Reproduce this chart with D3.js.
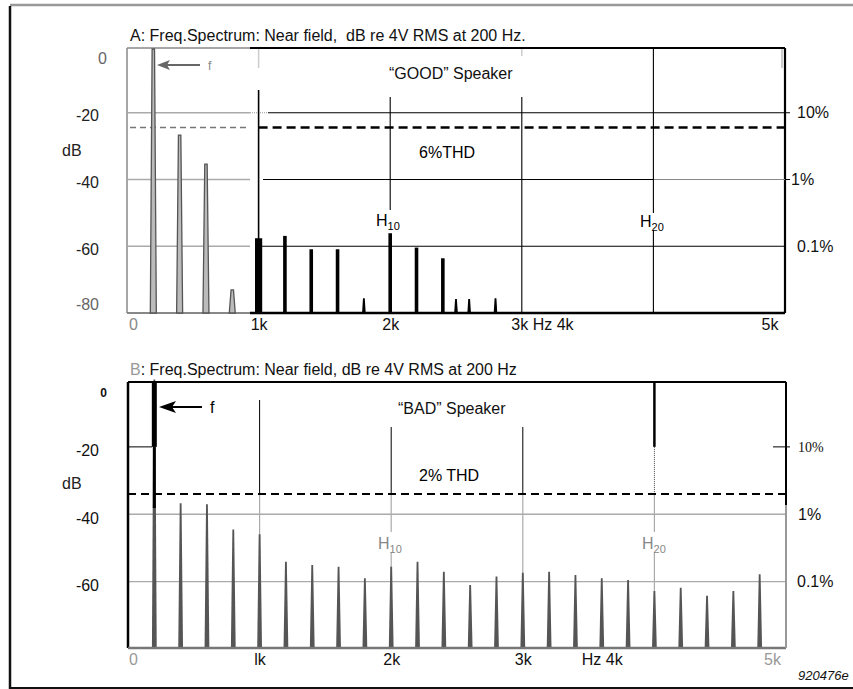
<!DOCTYPE html>
<html><head><meta charset="utf-8">
<script src="https://cdn.jsdelivr.net/npm/d3@7"></script>
<style>
html,body{margin:0;padding:0;background:#fff;}
svg{display:block;font-family:"Liberation Sans",Arial,sans-serif;}
text{white-space:pre;}
</style></head>
<body>
<svg id="c" width="853" height="689"></svg>
<script>
// ---------- data ----------
const goodLowFreq = [200, 400, 600, 800];
const goodLowDb   = [0, -25.8, -34.5, -72.2];
const goodHighFreq = [1000, 1200, 1400, 1600, 1800, 2000, 2200, 2400, 2500, 2600, 2800];
const goodHighDb   = [-57.6, -56.9, -60.9, -60.9, -75.6, -56.1, -60.4, -63.6, -75.8, -75.8, -75.6];
const badFreq = [200, 400, 600, 800, 1000, 1200, 1400, 1600, 1800, 2000, 2200, 2400,
                 2600, 2800, 3000, 3200, 3400, 3600, 3800, 4000, 4200, 4400, 4600, 4800];
const badDb   = [0, -36.7, -37, -44.5, -45.9, -54.1, -55.1, -55.6, -59, -55.6, -54.1, -57.1,
                 -61, -58.5, -57.4, -57.1, -58, -59, -59.5, -62.8, -61.8, -64.2, -62.8, -57.8];
const thdGoodDb = -24.4;   // 6% THD
const thdBadDb  = -34;     // 2% THD
const dbTicks = [0, -20, -40, -60, -80];
const dbTicksB = [0, -20, -40, -60];
const pctTicks = [-20, -40, -60];
const pctLabels = ["10%", "1%", "0.1%"];
const xTicksA = [0, 1000, 2000, 3000, 5000];
const xLabelsA = ["0", "1k", "2k", "3k Hz 4k", "5k"];
const xTicksB = [0, 1000, 2000, 3000, 3600, 5000];
const xLabelsB = ["0", "lk", "2k", "3k", "Hz 4k", "5k"];

// ---------- setup ----------
const svg = d3.select("#c");
const xA = d3.scaleLinear().domain([0, 5000]).range([127, 785]);
const yA = d3.scaleLinear().domain([-80, 0]).range([313, 46]);
const xB = d3.scaleLinear().domain([0, 5000]).range([128, 786]);
const yB = d3.scaleLinear().domain([-80, 0]).range([649, 379.5]);
const topA = 48, botA = 313, topB = 382, botB = 648;
const splitX = 250;
const FONT = "Liberation Sans, Arial, sans-serif";

function line(x1, y1, x2, y2, stroke, w, dash) {
  const l = svg.append("line").attr("x1", x1).attr("y1", y1).attr("x2", x2).attr("y2", y2)
    .attr("stroke", stroke).attr("stroke-width", w);
  if (dash) l.attr("stroke-dasharray", dash);
  return l;
}
function text(x, y, s, opts = {}) {
  const t = svg.append("text").attr("x", x).attr("y", y).text(s)
    .attr("font-size", opts.size || 16).attr("fill", opts.fill || "#111");
  if (opts.anchor) t.attr("text-anchor", opts.anchor);
  if (opts.weight) t.attr("font-weight", opts.weight);
  if (opts.style) t.attr("font-style", opts.style);
  if (opts.family) t.attr("font-family", opts.family);
  return t;
}
function harmLabel(x, y, sub, fill) {
  const t = svg.append("text").attr("x", x).attr("y", y).attr("font-size", 16).attr("fill", fill);
  t.append("tspan").text("H");
  t.append("tspan").attr("font-size", 11).attr("dy", 4).text(sub);
}
const fmtDb = d => String(d);

// ---------- outer frame ----------
line(10, 5, 853, 5, "#999", 2.5);
line(10, 6, 10, 689, "#111", 2.5);
line(10, 688, 853, 688, "#111", 2);

// ---------- Panel A ----------
text(130, 41, "A: Freq.Spectrum: Near field,  dB re 4V RMS at 200 Hz.");

// gray (left) portion
line(127, topA, splitX, topA, "#888", 1.5);
line(127, topA, 127, botA, "#888", 1.5);
line(127, botA, splitX, botA, "#888", 2);
[-20, -40, -60].forEach(d => line(127, yA(d), splitX, yA(d), "#aaa", 1.3));
line(130, yA(thdGoodDb), splitX, yA(thdGoodDb), "#777", 1.6, "6,4");
line(xA(1000), topA, xA(1000), topA + 20, "#ccc", 1.5);
line(xA(3000), topA, xA(3000), topA + 8, "#ccc", 1.5);
line(782, topA, 782, topA + 20, "#ccc", 2);

// gray spikes (outlined)
svg.append("g").selectAll("path").data(goodLowFreq.map((f, i) => [f, goodLowDb[i]])).join("path")
  .attr("d", d => {
    const x = xA(d[0]), y0 = yA(-80), y1 = yA(d[1]) + 3;
    return `M${x - 3},${y0} L${x - 1.2},${y1} L${x + 1.2},${y1} L${x + 3},${y0}Z`;
  })
  .attr("fill", "#bbb").attr("stroke", "#555").attr("stroke-width", 1.3);

// arrow f (gray)
line(162, 65, 200, 65, "#666", 2);
svg.append("path").attr("d", "M157,65 L170,60 L167,65 L170,70Z").attr("fill", "#666");
text(208, 70, "f", { size: 12, fill: "#888" });

// black overlay
line(splitX, topA, 785, topA, "#000", 2);
line(785, topA, 785, botA, "#000", 2.2);
line(splitX, botA, 785, botA, "#000", 2.5);
line(268, yA(-20), 790, yA(-20), "#000", 1.2);
line(splitX, yA(-20), 268, yA(-20), "#999", 1, "1,1");
line(263, yA(-40), 790, yA(-40), "#000", 1.1);
line(xA(4000), yA(-40), 785, yA(-40), "#888", 1);
line(258, yA(-60), 785, yA(-60), "#000", 1.1);
line(xA(1000), yA(thdGoodDb), 785, yA(thdGoodDb), "#000", 2.5, "9,5");
line(xA(1000), 90, xA(1000), botA, "#000", 1.6);
line(xA(2000), 97, xA(2000), 210, "#000", 1.1);
line(xA(3000), 97, xA(3000), botA, "#000", 1.1);
line(xA(4000), topA, xA(4000), 213, "#000", 1.1);
line(xA(4000), 230, xA(4000), botA, "#000", 1.1);

// black bars
svg.append("g").selectAll("path").data(goodHighFreq.map((f, i) => [f, goodHighDb[i]])).join("path")
  .attr("d", d => {
    const x = xA(d[0]), y0 = botA, y1 = yA(d[1]);
    const w = d[0] === 1000 ? 3.6 : 1.8;
    const tw = d[1] < -70 ? w * 0.5 : w;
    return `M${x - w},${y0} L${x - tw},${y1} L${x + tw},${y1} L${x + w},${y0}Z`;
  })
  .attr("fill", "#000");

// axes A
const axLA = svg.append("g").attr("transform", "translate(127,0)")
  .call(d3.axisLeft(yA).tickValues(dbTicks).tickSize(0).tickPadding(28).tickFormat(fmtDb));
axLA.select(".domain").remove();
axLA.selectAll("text").attr("font-size", 16).attr("font-family", FONT)
  .attr("fill", d => (d === 0 || d === -80) ? "#666" : "#222")
  .attr("dy", d => d === 0 ? "1.1em" : d === -80 ? "-0.25em" : "0.5em")
  .attr("dx", d => d === 0 ? 8 : 0);
text(62, 156, "dB", { fill: "#222" });

const axRA = svg.append("g").attr("transform", "translate(785,0)")
  .call(d3.axisRight(yA).tickValues(pctTicks).tickSize(0).tickPadding(12)
    .tickFormat((d, i) => pctLabels[i]));
axRA.select(".domain").remove();
axRA.selectAll("text").attr("font-size", 16).attr("font-family", FONT)
  .attr("fill", "#111").attr("dx", (d, i) => i === 1 ? -6 : 0);

const axBA = svg.append("g").attr("transform", `translate(0,${botA})`)
  .call(d3.axisBottom(xA).tickValues(xTicksA).tickSize(0).tickPadding(6)
    .tickFormat((d, i) => xLabelsA[i]));
axBA.select(".domain").remove();
axBA.selectAll("text").attr("font-size", 16).attr("font-family", FONT)
  .attr("fill", d => d === 0 ? "#888" : "#111")
  .attr("text-anchor", d => d === 3000 ? "start" : d === 5000 ? "end" : "middle")
  .attr("dx", d => d === 0 ? 6 : d === 3000 ? -11 : d === 5000 ? -7 : 0);

text(389, 79, "\u201CGOOD\u201D Speaker", { fill: "#111" });
text(419, 158, "6%THD", { fill: "#000" });
harmLabel(376, 226, "10", "#000");
harmLabel(640, 227, "20", "#000");

// ---------- Panel B ----------
const tB = svg.append("text").attr("x", 130).attr("y", 375).attr("font-size", 16).attr("fill", "#111");
tB.append("tspan").attr("fill", "#999").text("B");
tB.append("tspan").text(": Freq.Spectrum: Near field, dB re 4V RMS at 200 Hz");

[-40, -60].forEach(d => line(128, yB(d), 786, yB(d), "#aaa", 1.4));
line(128, yB(-20), 152, yB(-20), "#000", 1);
line(773, yB(-20), 790, yB(-20), "#000", 1);

// verticals
line(xB(1000), 400, xB(1000), yB(thdBadDb), "#000", 1);
line(xB(1000), yB(thdBadDb), xB(1000), botB, "#aaa", 1.2);
line(xB(2000), 427, xB(2000), yB(thdBadDb), "#000", 1);
line(xB(2000), yB(thdBadDb), xB(2000), 532, "#aaa", 1.2);
line(xB(2000), 552, xB(2000), botB, "#aaa", 1.2);
line(xB(3000), 427, xB(3000), yB(thdBadDb), "#000", 1);
line(xB(3000), yB(thdBadDb), xB(3000), botB, "#aaa", 1.2);
line(xB(4000), topB, xB(4000), yB(-20), "#000", 2.5);
line(xB(4000), yB(-20), xB(4000), yB(thdBadDb), "#444", 1, "1,1");
line(xB(4000), yB(thdBadDb), xB(4000), 532, "#aaa", 1.2);
line(xB(4000), 552, xB(4000), botB, "#aaa", 1.2);

// spikes
svg.append("g").selectAll("path").data(badFreq.map((f, i) => [f, badDb[i]])).join("path")
  .attr("d", d => {
    const x = xB(d[0]), y0 = botB, y1 = yB(d[1]);
    return `M${x - 2.4},${y0} L${x - 0.9},${y1} L${x + 0.9},${y1} L${x + 2.4},${y0}Z`;
  })
  .attr("fill", "#555");

// fundamental overlay
svg.append("rect").attr("x", xB(200) - 2.5).attr("y", topB).attr("width", 5)
  .attr("height", yB(-20) - topB).attr("fill", "#000");
line(xB(200), yB(-20), xB(200), yB(thdBadDb) + 14, "#000", 3);

line(128, yB(thdBadDb), 786, yB(thdBadDb), "#000", 2, "8,5");

// frame B
line(128, topB, 786, topB, "#000", 2);
line(128, topB, 128, botB, "#000", 2.5);
line(128, botB, 786, botB, "#777", 2.5);
line(786, 465, 786, botB, "#999", 2);
line(786, topB, 786, 505, "#000", 2);

// arrow f
line(168, 407, 202, 407, "#000", 2);
svg.append("path").attr("d", "M159,407 L176,401 L172,407 L176,413Z").attr("fill", "#000");
text(210, 413, "f", { size: 16, fill: "#000" });

// axes B
const axLB = svg.append("g").attr("transform", "translate(128,0)")
  .call(d3.axisLeft(yB).tickValues(dbTicksB).tickSize(0).tickPadding(29).tickFormat(fmtDb));
axLB.select(".domain").remove();
axLB.selectAll("text").attr("font-size", d => d === 0 ? 12 : 16)
  .attr("font-weight", d => d === 0 ? "bold" : "normal")
  .attr("font-family", FONT).attr("fill", "#111")
  .attr("dy", d => d === 0 ? "1.4em" : "0.55em").attr("dx", d => d === 0 ? 8 : 0);
text(62, 489, "dB", { fill: "#222" });

const axRB = svg.append("g").attr("transform", "translate(786,0)")
  .call(d3.axisRight(yB).tickValues(pctTicks).tickSize(0).tickPadding(12)
    .tickFormat((d, i) => pctLabels[i]));
axRB.select(".domain").remove();
axRB.selectAll("text").attr("font-size", (d, i) => i === 0 ? 14 : 16)
  .attr("font-family", (d, i) => i === 0 ? "Liberation Serif, Times New Roman, serif" : FONT)
  .attr("fill", "#111").attr("dx", (d, i) => i === 2 ? -1 : 0);

const axBB = svg.append("g").attr("transform", `translate(0,${botB})`)
  .call(d3.axisBottom(xB).tickValues(xTicksB).tickSize(0).tickPadding(6)
    .tickFormat((d, i) => xLabelsB[i]));
axBB.select(".domain").remove();
axBB.selectAll("text").attr("font-size", 16).attr("font-family", FONT)
  .attr("fill", d => (d === 0 || d === 5000) ? "#999" : "#111")
  .attr("dx", d => d === 0 ? 5 : d === 5000 ? -14 : 0);

text(398, 414, "\u201CBAD\u201D Speaker", { fill: "#111" });
text(419, 481, "2% THD", { fill: "#000", size: 16 });
harmLabel(378, 549, "10", "#888");
harmLabel(642, 549, "20", "#888");

text(798, 680, "920476e", { size: 13, style: "italic", fill: "#111" });
</script>
</body></html>
